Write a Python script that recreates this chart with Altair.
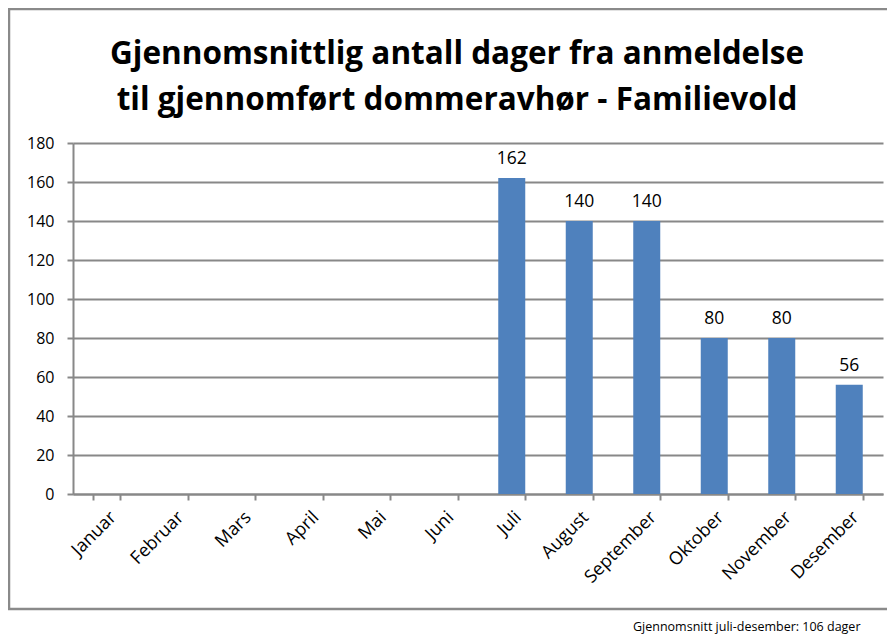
import altair as alt
import pandas as pd

months = ["Januar", "Februar", "Mars", "April", "Mai", "Juni",
          "Juli", "August", "September", "Oktober", "November", "Desember"]
values = [None, None, None, None, None, None, 162, 140, 140, 80, 80, 56]
title_lines = ["Gjennomsnittlig antall dager fra anmeldelse",
               "til gjennomført dommeravhør - Familievold"]
note = "Gjennomsnitt juli-desember: 106 dager"
y_ticks = [0, 20, 40, 60, 80, 100, 120, 140, 160, 180]

df = pd.DataFrame({"month": months, "value": values})

FONT = "Open Sans"
GRAY = "#888888"

x_enc = alt.X("month:N", sort=months,
              scale=alt.Scale(domain=months, paddingInner=0.6, paddingOuter=0.3),
              axis=alt.Axis(title=note, labelAngle=-45, labelAlign="right",
                            labelBaseline="top", labelFontSize=18, labelFont=FONT,
                            labelColor="#000000", labelPadding=8,
                            tickBand="extent", tickSize=6, tickColor=GRAY,
                            tickWidth=2, domainColor=GRAY, domainWidth=2,
                            titleFont=FONT, titleFontSize=12.5, titleFontWeight="normal",
                            titleColor="#000000", titleAnchor="end", titleAlign="right",
                            titleBaseline="alphabetic", titleX=787, titleY=136))
y_enc = alt.Y("value:Q",
              scale=alt.Scale(domain=[0, 180], nice=False),
              axis=alt.Axis(title=None, values=y_ticks, labelFontSize=16,
                            labelFont=FONT, labelColor="#000000", labelPadding=13,
                            labelOverlap=False, labelFlush=False,
                            tickSize=6, tickColor=GRAY, tickWidth=2,
                            domainColor=GRAY, domainWidth=2,
                            grid=True, gridColor=GRAY, gridWidth=2))

bars = alt.Chart(df).mark_bar(color="#4F81BD").encode(x=x_enc, y=y_enc)

labels = alt.Chart(df).transform_filter("datum.value != null").mark_text(
    font=FONT, fontSize=17.5, color="#000000", baseline="alphabetic", dy=-14
).encode(x=x_enc, y=y_enc, text="value:Q")

frame = alt.Chart(pd.DataFrame({"a": [0]})).mark_rect(
    fillOpacity=0, stroke="#8a8a8a", strokeWidth=2.5
).encode(x=alt.value(-64), x2=alt.value(840), y=alt.value(-134), y2=alt.value(466))

chart = alt.layer(frame, bars, labels).properties(
    width=810, height=351,
    padding={"left": 65, "top": 135, "right": 4, "bottom": 140},
    autosize=alt.AutoSizeParams(type="none"),
    title=alt.TitleParams(text=title_lines, font=FONT, fontSize=31.5, fontWeight="bold",
                          color="#000000", anchor="middle", frame="group", dx=-21,
                          offset=-109, lineHeight=46),
).configure_view(stroke=None)

chart.save("out.html", embed_options={"renderer": "svg", "actions": False})
